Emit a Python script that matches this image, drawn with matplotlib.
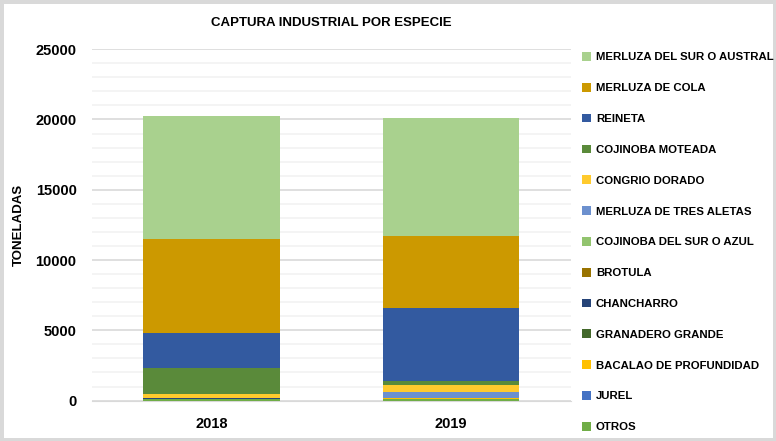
import matplotlib
matplotlib.use("Agg")
import matplotlib.pyplot as plt
import numpy as np

plt.rcParams['font.family'] = ['Liberation Sans', 'DejaVu Sans']

years = ['2018', '2019']
especies = ['OTROS', 'JUREL', 'BACALAO DE PROFUNDIDAD', 'GRANADERO GRANDE',
            'CHANCHARRO', 'BROTULA', 'COJINOBA DEL SUR O AZUL',
            'MERLUZA DE TRES ALETAS', 'CONGRIO DORADO', 'COJINOBA MOTEADA',
            'REINETA', 'MERLUZA DE COLA', 'MERLUZA DEL SUR O AUSTRAL']
# toneladas por especie (2018, 2019)
otros = [100, 120]
jurel = [10, 10]
bacalao = [20, 20]
granadero = [10, 10]
chancharro = [10, 10]
brotula = [10, 10]
cojinoba_azul = [10, 10]
tres_aletas = [20, 400]
congrio = [250, 520]
cojinoba_moteada = [1900, 260]
reineta = [2500, 5200]
cola = [6640, 5150]
austral = [8800, 8420]
series = [otros, jurel, bacalao, granadero, chancharro, brotula, cojinoba_azul,
          tres_aletas, congrio, cojinoba_moteada, reineta, cola, austral]
colores = ['#70AD47', '#4472C4', '#FFC000', '#43682B', '#264478', '#997300',
           '#92C46E', '#6C90CE', '#FFCA2D', '#5A8A3A', '#335AA0', '#CC9900',
           '#A9D18E']

fig = plt.figure(figsize=(7.76, 4.41), dpi=100)
fig.patch.set_edgecolor('#D9D9D9')
fig.patch.set_linewidth(5)
ax = fig.add_axes([0.1184, 0.0916, 0.6174, 0.7968])

x = np.arange(len(years))
bottom = np.zeros(len(years))
handles = []
for nombre, vals, c in zip(especies, series, colores):
    b = ax.bar(x, vals, 0.57, bottom=bottom, color=c, label=nombre, zorder=3)
    handles.append(b)
    bottom += np.array(vals)

ax.set_xlim(-0.5, 1.5)
ax.set_ylim(0, 25000)
ax.set_yticks(range(0, 25001, 5000))
ax.set_yticks(range(0, 25001, 1000), minor=True)
ax.grid(axis='y', which='major', color='#D9D9D9', linewidth=1.2, zorder=0)
ax.grid(axis='y', which='minor', color='#F2F2F2', linewidth=1.2, zorder=0)
ax.set_xticks(x)
ax.set_xticklabels(years)
ax.tick_params(which='both', length=0, labelsize=10.5)
ax.tick_params(axis='x', pad=12)
ax.tick_params(axis='y', pad=11)
for lab in ax.get_xticklabels() + ax.get_yticklabels():
    lab.set_fontweight('bold')
for s in ['top', 'right', 'left']:
    ax.spines[s].set_visible(False)
ax.spines['bottom'].set_color('#D9D9D9')
ax.set_ylabel('TONELADAS', fontsize=9.5, fontweight='bold')
ax.yaxis.set_label_coords(-0.14, 0.5)
ax.set_title('CAPTURA INDUSTRIAL POR ESPECIE', fontsize=9.5, fontweight='bold', pad=17)

leg = fig.legend(handles[::-1], especies[::-1], loc='upper left',
                 bbox_to_anchor=(0.737, 0.905), frameon=False,
                 prop={'weight': 'bold', 'size': 8.2}, handlelength=0.8,
                 handleheight=0.8, handletextpad=0.4, labelspacing=1.8)

fig.savefig('out.png', dpi=100)
